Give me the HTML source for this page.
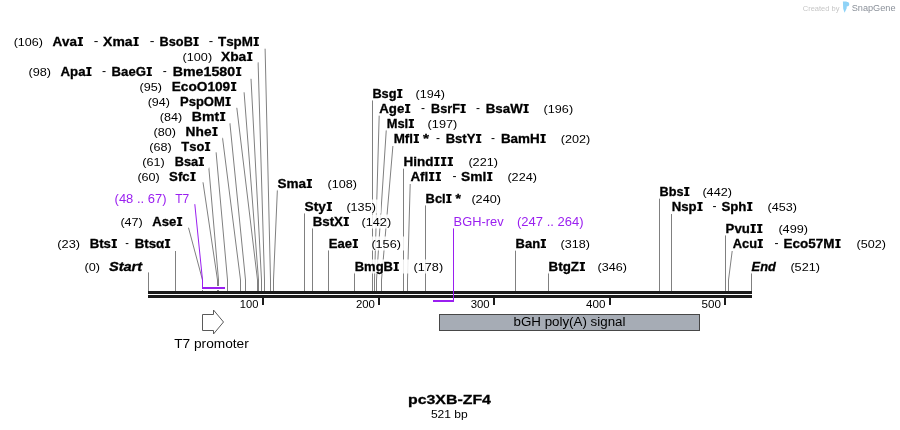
<!DOCTYPE html>
<html><head><meta charset="utf-8"><title>pc3XB-ZF4</title>
<style>
html,body{margin:0;padding:0;background:#fff;}
body{width:900px;height:430px;overflow:hidden;font-family:"Liberation Sans",sans-serif;}
svg{display:block;font-family:"Liberation Sans",sans-serif;}
text{font-kerning:none;font-variant-ligatures:none;white-space:pre;}
</style></head><body>
<svg width="900" height="430" viewBox="0 0 900 430" style="will-change:transform">
<rect width="900" height="430" fill="#fff"/>
<g stroke="#808080" stroke-width="1" fill="none">
<path d="M265.1 48.7L270.5 280V291"/>
<path d="M258.1 62.3L264.5 280V291"/>
<path d="M251 78.8L261.5 280V291"/>
<path d="M244.1 92.3L258.5 280V291"/>
<path d="M236.8 107.8L257.5 280V291"/>
<path d="M229.9 123L245.5 280V291"/>
<path d="M222.5 137.7L240.5 280V291"/>
<path d="M216.1 152.3L227.5 280V291"/>
<path d="M208.8 167.4L218.5 280V291"/>
<path d="M203 182.3L217.5 280V291"/>
<path d="M188.5 227.7L202.5 280V291"/>
<path d="M175.5 251V291"/>
<path d="M148.5 272.4V291"/>
<path d="M277.4 189.4L273.5 280V291"/>
<path d="M304.5 213V291"/>
<path d="M312.5 228V291"/>
<path d="M328.5 250V291"/>
<path d="M354.5 272.4V291"/>
<path d="M372.5 100V291"/>
<path d="M379.2 115.4L374.5 280V291"/>
<path d="M386.3 129.6L376.5 280V291"/>
<path d="M392.9 146L381.5 280V291"/>
<path d="M403.5 168.4V291"/>
<path d="M410.2 184L407.5 280V291"/>
<path d="M425.5 205V291"/>
<path d="M515.5 250.4V291"/>
<path d="M548.5 272.4V291"/>
<path d="M659.5 198.4V291"/>
<path d="M671.5 214V291"/>
<path d="M725.5 235V291"/>
<path d="M732.2 251L728.5 280V291"/>
<path d="M751.5 272.6V291"/>
</g>
<g fill="#fff" fill-opacity="0.85">
<rect x="11.7" y="34.5" width="252.2" height="14"/>
<rect x="180.6" y="49.5" width="76.8" height="14"/>
<rect x="26.5" y="64.5" width="219.8" height="14"/>
<rect x="137.6" y="79.5" width="103.7" height="14"/>
<rect x="145.7" y="94.5" width="90.0" height="14"/>
<rect x="157.7" y="109.5" width="72.6" height="14"/>
<rect x="151.5" y="124.5" width="71.1" height="14"/>
<rect x="147.3" y="139.5" width="67.9" height="14"/>
<rect x="140.3" y="154.5" width="68.7" height="14"/>
<rect x="135.4" y="169.5" width="65.2" height="14"/>
<rect x="112.6" y="191.5" width="81.7" height="14"/>
<rect x="118.4" y="214.5" width="68.8" height="14"/>
<rect x="55.3" y="236.5" width="119.9" height="14"/>
<rect x="82.5" y="259.5" width="65.2" height="14"/>
<rect x="275.4" y="176.5" width="86.6" height="14"/>
<rect x="302.6" y="199.5" width="78.3" height="14"/>
<rect x="310.7" y="214.5" width="85.4" height="14"/>
<rect x="326.8" y="236.5" width="79.1" height="14"/>
<rect x="352.7" y="259.5" width="95.4" height="14"/>
<rect x="370.4" y="86.5" width="79.6" height="14"/>
<rect x="377.3" y="101.5" width="200.8" height="14"/>
<rect x="384.7" y="116.5" width="77.6" height="14"/>
<rect x="391.7" y="131.5" width="203.5" height="14"/>
<rect x="401.6" y="154.5" width="101.4" height="14"/>
<rect x="408.4" y="169.5" width="133.6" height="14"/>
<rect x="423.6" y="191.5" width="82.4" height="14"/>
<rect x="451.6" y="214.5" width="137.0" height="14"/>
<rect x="513.6" y="236.5" width="81.4" height="14"/>
<rect x="546.6" y="259.5" width="85.4" height="14"/>
<rect x="657.6" y="184.5" width="79.4" height="14"/>
<rect x="669.8" y="199.5" width="132.2" height="14"/>
<rect x="723.6" y="221.5" width="89.4" height="14"/>
<rect x="730.8" y="236.5" width="160.2" height="14"/>
<rect x="749.6" y="259.5" width="75.4" height="14"/>
</g>
<rect x="148" y="291" width="604" height="3" fill="#1c1c1c"/>
<rect x="148" y="295" width="604" height="3" fill="#1c1c1c"/>
<rect x="262" y="298" width="2" height="7" fill="#1c1c1c"/>
<rect x="378" y="298" width="2" height="7" fill="#1c1c1c"/>
<rect x="493" y="298" width="2" height="7" fill="#1c1c1c"/>
<rect x="609" y="298" width="2" height="7" fill="#1c1c1c"/>
<rect x="724" y="298" width="2" height="7" fill="#1c1c1c"/>
<g fill="none">
<path d="M202.5 280V288H225" stroke="#fff" stroke-width="4"/>
<path d="M194.8 204.2L202.5 280V288" stroke="#9a1ff0" stroke-width="1"/>
<path d="M202 288H225" stroke="#9a1ff0" stroke-width="2"/>
<path d="M453.5 228.4V301" stroke="#9a1ff0" stroke-width="1"/>
<path d="M433 301H454" stroke="#9a1ff0" stroke-width="2"/>
</g>
<path d="M202.5 314.5H213.5V310L223.5 322L213.5 334V330.5H202.5Z" fill="#fff" stroke="#5a5a5a" stroke-width="1"/>
<rect x="439.5" y="314.5" width="260" height="16" fill="#a6acb5" stroke="#474747" stroke-width="1"/>
<text x="13.70" y="46" font-size="11" font-weight="normal" fill="#000" textLength="29.30" lengthAdjust="spacingAndGlyphs">(106)</text>
<text x="52.40" y="46" font-size="12.5" font-weight="bold" fill="#000" stroke="#000" stroke-width="0.3" textLength="31.30" lengthAdjust="spacingAndGlyphs">Ava </text><path d="M77.70 37.10H83.00V38.70H81.54V44.40H83.00V46H77.70V44.40H79.16V38.70H77.70Z" fill="#000"/>
<text x="93.70" y="44.8" font-size="12" font-weight="normal" fill="#000" textLength="4.60" lengthAdjust="spacingAndGlyphs">-</text>
<text x="103.10" y="46" font-size="12.5" font-weight="bold" fill="#000" stroke="#000" stroke-width="0.3" textLength="36.44" lengthAdjust="spacingAndGlyphs">Xma </text><path d="M133.40 37.10H138.70V38.70H137.24V44.40H138.70V46H133.40V44.40H134.86V38.70H133.40Z" fill="#000"/>
<text x="149.70" y="44.8" font-size="12" font-weight="normal" fill="#000" textLength="4.70" lengthAdjust="spacingAndGlyphs">-</text>
<text x="159.60" y="46" font-size="12.5" font-weight="bold" fill="#000" stroke="#000" stroke-width="0.3" textLength="39.63" lengthAdjust="spacingAndGlyphs">BsoB </text><path d="M193.40 37.10H198.70V38.70H197.24V44.40H198.70V46H193.40V44.40H194.86V38.70H193.40Z" fill="#000"/>
<text x="208.70" y="44.8" font-size="12" font-weight="normal" fill="#000" textLength="4.40" lengthAdjust="spacingAndGlyphs">-</text>
<text x="218.00" y="46" font-size="12.5" font-weight="bold" fill="#000" stroke="#000" stroke-width="0.3" textLength="41.59" lengthAdjust="spacingAndGlyphs">TspM </text><path d="M253.60 37.10H258.90V38.70H257.44V44.40H258.90V46H253.60V44.40H255.06V38.70H253.60Z" fill="#000"/>
<text x="182.60" y="61" font-size="11" font-weight="normal" fill="#000" textLength="29.50" lengthAdjust="spacingAndGlyphs">(100)</text>
<text x="221.00" y="61" font-size="12.5" font-weight="bold" fill="#000" stroke="#000" stroke-width="0.3" textLength="32.20" lengthAdjust="spacingAndGlyphs">Xba </text><path d="M247.10 52.10H252.40V53.70H250.94V59.40H252.40V61H247.10V59.40H248.56V53.70H247.10Z" fill="#000"/>
<text x="28.50" y="76" font-size="11" font-weight="normal" fill="#000" textLength="22.60" lengthAdjust="spacingAndGlyphs">(98)</text>
<text x="60.50" y="76" font-size="12.5" font-weight="bold" fill="#000" stroke="#000" stroke-width="0.3" textLength="31.66" lengthAdjust="spacingAndGlyphs">Apa </text><path d="M86.20 67.10H91.50V68.70H90.04V74.40H91.50V76H86.20V74.40H87.66V68.70H86.20Z" fill="#000"/>
<text x="102.10" y="74.8" font-size="12" font-weight="normal" fill="#000" textLength="4.10" lengthAdjust="spacingAndGlyphs">-</text>
<text x="111.60" y="76" font-size="12.5" font-weight="bold" fill="#000" stroke="#000" stroke-width="0.3" textLength="40.94" lengthAdjust="spacingAndGlyphs">BaeG </text><path d="M146.60 67.10H151.90V68.70H150.44V74.40H151.90V76H146.60V74.40H148.06V68.70H146.60Z" fill="#000"/>
<text x="162.70" y="74.8" font-size="12" font-weight="normal" fill="#000" textLength="4.00" lengthAdjust="spacingAndGlyphs">-</text>
<text x="172.70" y="76" font-size="12.5" font-weight="bold" fill="#000" stroke="#000" stroke-width="0.3" textLength="69.50" lengthAdjust="spacingAndGlyphs">Bme1580 </text><path d="M236.00 67.10H241.30V68.70H239.84V74.40H241.30V76H236.00V74.40H237.46V68.70H236.00Z" fill="#000"/>
<text x="139.60" y="91" font-size="11" font-weight="normal" fill="#000" textLength="22.40" lengthAdjust="spacingAndGlyphs">(95)</text>
<text x="171.70" y="91" font-size="12.5" font-weight="bold" fill="#000" stroke="#000" stroke-width="0.3" textLength="65.37" lengthAdjust="spacingAndGlyphs">EcoO109 </text><path d="M231.00 82.10H236.30V83.70H234.84V89.40H236.30V91H231.00V89.40H232.46V83.70H231.00Z" fill="#000"/>
<text x="147.70" y="106" font-size="11" font-weight="normal" fill="#000" textLength="22.30" lengthAdjust="spacingAndGlyphs">(94)</text>
<text x="180.00" y="106" font-size="12.5" font-weight="bold" fill="#000" stroke="#000" stroke-width="0.3" textLength="51.30" lengthAdjust="spacingAndGlyphs">PspOM </text><path d="M225.40 97.10H230.70V98.70H229.24V104.40H230.70V106H225.40V104.40H226.86V98.70H225.40Z" fill="#000"/>
<text x="159.70" y="121" font-size="11" font-weight="normal" fill="#000" textLength="22.40" lengthAdjust="spacingAndGlyphs">(84)</text>
<text x="191.80" y="121" font-size="12.5" font-weight="bold" fill="#000" stroke="#000" stroke-width="0.3" textLength="34.36" lengthAdjust="spacingAndGlyphs">Bmt </text><path d="M220.00 112.10H225.30V113.70H223.84V119.40H225.30V121H220.00V119.40H221.46V113.70H220.00Z" fill="#000"/>
<text x="153.50" y="136" font-size="11" font-weight="normal" fill="#000" textLength="22.40" lengthAdjust="spacingAndGlyphs">(80)</text>
<text x="185.60" y="136" font-size="12.5" font-weight="bold" fill="#000" stroke="#000" stroke-width="0.3" textLength="32.78" lengthAdjust="spacingAndGlyphs">Nhe </text><path d="M212.30 127.10H217.60V128.70H216.14V134.40H217.60V136H212.30V134.40H213.76V128.70H212.30Z" fill="#000"/>
<text x="149.30" y="151" font-size="11" font-weight="normal" fill="#000" textLength="22.40" lengthAdjust="spacingAndGlyphs">(68)</text>
<text x="181.30" y="151" font-size="12.5" font-weight="bold" fill="#000" stroke="#000" stroke-width="0.3" textLength="29.49" lengthAdjust="spacingAndGlyphs">Tso </text><path d="M204.90 142.10H210.20V143.70H208.74V149.40H210.20V151H204.90V149.40H206.36V143.70H204.90Z" fill="#000"/>
<text x="142.30" y="166" font-size="11" font-weight="normal" fill="#000" textLength="22.40" lengthAdjust="spacingAndGlyphs">(61)</text>
<text x="174.70" y="166" font-size="12.5" font-weight="bold" fill="#000" stroke="#000" stroke-width="0.3" textLength="29.85" lengthAdjust="spacingAndGlyphs">Bsa </text><path d="M198.70 157.10H204.00V158.70H202.54V164.40H204.00V166H198.70V164.40H200.16V158.70H198.70Z" fill="#000"/>
<text x="137.40" y="181" font-size="11" font-weight="normal" fill="#000" textLength="22.40" lengthAdjust="spacingAndGlyphs">(60)</text>
<text x="169.10" y="181" font-size="12.5" font-weight="bold" fill="#000" stroke="#000" stroke-width="0.3" textLength="27.15" lengthAdjust="spacingAndGlyphs">Sfc </text><path d="M190.30 172.10H195.60V173.70H194.14V179.40H195.60V181H190.30V179.40H191.76V173.70H190.30Z" fill="#000"/>
<text x="114.60" y="203" font-size="12" font-weight="normal" fill="#9a1ff0" textLength="51.90" lengthAdjust="spacingAndGlyphs">(48 .. 67)</text>
<text x="175.30" y="203" font-size="12" font-weight="normal" fill="#9a1ff0" textLength="14.00" lengthAdjust="spacingAndGlyphs">T7</text>
<text x="120.40" y="226" font-size="11" font-weight="normal" fill="#000" textLength="22.40" lengthAdjust="spacingAndGlyphs">(47)</text>
<text x="152.30" y="226" font-size="12.5" font-weight="bold" fill="#000" stroke="#000" stroke-width="0.3" textLength="30.52" lengthAdjust="spacingAndGlyphs">Ase </text><path d="M176.90 217.10H182.20V218.70H180.74V224.40H182.20V226H176.90V224.40H178.36V218.70H176.90Z" fill="#000"/>
<text x="57.30" y="248" font-size="11" font-weight="normal" fill="#000" textLength="22.80" lengthAdjust="spacingAndGlyphs">(23)</text>
<text x="89.70" y="248" font-size="12.5" font-weight="bold" fill="#000" stroke="#000" stroke-width="0.3" textLength="27.85" lengthAdjust="spacingAndGlyphs">Bts </text><path d="M111.60 239.10H116.90V240.70H115.44V246.40H116.90V248H111.60V246.40H113.06V240.70H111.60Z" fill="#000"/>
<text x="125.20" y="246.8" font-size="12" font-weight="normal" fill="#000" textLength="3.60" lengthAdjust="spacingAndGlyphs">-</text>
<text x="134.70" y="248" font-size="12.5" font-weight="bold" fill="#000" stroke="#000" stroke-width="0.3" textLength="36.17" lengthAdjust="spacingAndGlyphs">Btsα </text><path d="M164.90 239.10H170.20V240.70H168.74V246.40H170.20V248H164.90V246.40H166.36V240.70H164.90Z" fill="#000"/>
<text x="84.50" y="271" font-size="11" font-weight="normal" fill="#000" textLength="15.50" lengthAdjust="spacingAndGlyphs">(0)</text>
<text x="108.90" y="271" font-size="12.5" font-weight="bold" font-style="italic" fill="#000" stroke="#000" stroke-width="0.3" textLength="33.29" lengthAdjust="spacingAndGlyphs">Start</text>
<text x="277.40" y="188" font-size="12.5" font-weight="bold" fill="#000" stroke="#000" stroke-width="0.3" textLength="35.33" lengthAdjust="spacingAndGlyphs">Sma </text><path d="M306.70 179.10H312.00V180.70H310.54V186.40H312.00V188H306.70V186.40H308.16V180.70H306.70Z" fill="#000"/>
<text x="327.60" y="188" font-size="11" font-weight="normal" fill="#000" textLength="29.40" lengthAdjust="spacingAndGlyphs">(108)</text>
<text x="304.60" y="211" font-size="12.5" font-weight="bold" fill="#000" stroke="#000" stroke-width="0.3" textLength="28.18" lengthAdjust="spacingAndGlyphs">Sty </text><path d="M326.70 202.10H332.00V203.70H330.54V209.40H332.00V211H326.70V209.40H328.16V203.70H326.70Z" fill="#000"/>
<text x="346.40" y="211" font-size="11" font-weight="normal" fill="#000" textLength="29.50" lengthAdjust="spacingAndGlyphs">(135)</text>
<text x="312.70" y="226" font-size="12.5" font-weight="bold" fill="#000" stroke="#000" stroke-width="0.3" textLength="36.87" lengthAdjust="spacingAndGlyphs">BstX </text><path d="M343.60 217.10H348.90V218.70H347.44V224.40H348.90V226H343.60V224.40H345.06V218.70H343.60Z" fill="#000"/>
<text x="361.60" y="226" font-size="11" font-weight="normal" fill="#000" textLength="29.50" lengthAdjust="spacingAndGlyphs">(142)</text>
<text x="328.80" y="248" font-size="12.5" font-weight="bold" fill="#000" stroke="#000" stroke-width="0.3" textLength="29.82" lengthAdjust="spacingAndGlyphs">Eae </text><path d="M352.70 239.10H358.00V240.70H356.54V246.40H358.00V248H352.70V246.40H354.16V240.70H352.70Z" fill="#000"/>
<text x="371.40" y="248" font-size="11" font-weight="normal" fill="#000" textLength="29.50" lengthAdjust="spacingAndGlyphs">(156)</text>
<text x="354.70" y="271" font-size="12.5" font-weight="bold" fill="#000" stroke="#000" stroke-width="0.3" textLength="44.80" lengthAdjust="spacingAndGlyphs">BmgB </text><path d="M393.60 262.10H398.90V263.70H397.44V269.40H398.90V271H393.60V269.40H395.06V263.70H393.60Z" fill="#000"/>
<text x="413.60" y="271" font-size="11" font-weight="normal" fill="#000" textLength="29.50" lengthAdjust="spacingAndGlyphs">(178)</text>
<text x="372.40" y="98" font-size="12.5" font-weight="bold" fill="#000" stroke="#000" stroke-width="0.3" textLength="30.55" lengthAdjust="spacingAndGlyphs">Bsg </text><path d="M397.10 89.10H402.40V90.70H400.94V96.40H402.40V98H397.10V96.40H398.56V90.70H397.10Z" fill="#000"/>
<text x="415.60" y="98" font-size="11" font-weight="normal" fill="#000" textLength="29.40" lengthAdjust="spacingAndGlyphs">(194)</text>
<text x="379.30" y="113" font-size="12.5" font-weight="bold" fill="#000" stroke="#000" stroke-width="0.3" textLength="31.66" lengthAdjust="spacingAndGlyphs">Age </text><path d="M405.00 104.10H410.30V105.70H408.84V111.40H410.30V113H405.00V111.40H406.46V105.70H405.00Z" fill="#000"/>
<text x="421.00" y="111.8" font-size="12" font-weight="normal" fill="#000" textLength="4.00" lengthAdjust="spacingAndGlyphs">-</text>
<text x="431.00" y="113" font-size="12.5" font-weight="bold" fill="#000" stroke="#000" stroke-width="0.3" textLength="35.22" lengthAdjust="spacingAndGlyphs">BsrF </text><path d="M460.40 104.10H465.70V105.70H464.24V111.40H465.70V113H460.40V111.40H461.86V105.70H460.40Z" fill="#000"/>
<text x="476.00" y="111.8" font-size="12" font-weight="normal" fill="#000" textLength="4.00" lengthAdjust="spacingAndGlyphs">-</text>
<text x="485.70" y="113" font-size="12.5" font-weight="bold" fill="#000" stroke="#000" stroke-width="0.3" textLength="43.68" lengthAdjust="spacingAndGlyphs">BsaW </text><path d="M523.40 104.10H528.70V105.70H527.24V111.40H528.70V113H523.40V111.40H524.86V105.70H523.40Z" fill="#000"/>
<text x="543.60" y="113" font-size="11" font-weight="normal" fill="#000" textLength="29.50" lengthAdjust="spacingAndGlyphs">(196)</text>
<text x="386.70" y="128" font-size="12.5" font-weight="bold" fill="#000" stroke="#000" stroke-width="0.3" textLength="27.86" lengthAdjust="spacingAndGlyphs">Msl </text><path d="M408.70 119.10H414.00V120.70H412.54V126.40H414.00V128H408.70V126.40H410.16V120.70H408.70Z" fill="#000"/>
<text x="427.60" y="128" font-size="11" font-weight="normal" fill="#000" textLength="29.70" lengthAdjust="spacingAndGlyphs">(197)</text>
<text x="393.70" y="143" font-size="12.5" font-weight="bold" fill="#000" stroke="#000" stroke-width="0.3" textLength="25.99" lengthAdjust="spacingAndGlyphs">Mfl </text><path d="M413.70 134.10H419.00V135.70H417.54V141.40H419.00V143H413.70V141.40H415.16V135.70H413.70Z" fill="#000"/>
<text x="423.00" y="143" font-size="12.5" font-weight="bold" fill="#000" stroke="#000" stroke-width="0.3" textLength="6.00" lengthAdjust="spacingAndGlyphs">*</text>
<text x="436.00" y="141.8" font-size="12" font-weight="normal" fill="#000" textLength="4.00" lengthAdjust="spacingAndGlyphs">-</text>
<text x="445.70" y="143" font-size="12.5" font-weight="bold" fill="#000" stroke="#000" stroke-width="0.3" textLength="36.21" lengthAdjust="spacingAndGlyphs">BstY </text><path d="M476.00 134.10H481.30V135.70H479.84V141.40H481.30V143H476.00V141.40H477.46V135.70H476.00Z" fill="#000"/>
<text x="491.00" y="141.8" font-size="12" font-weight="normal" fill="#000" textLength="4.00" lengthAdjust="spacingAndGlyphs">-</text>
<text x="500.90" y="143" font-size="12.5" font-weight="bold" fill="#000" stroke="#000" stroke-width="0.3" textLength="45.51" lengthAdjust="spacingAndGlyphs">BamH </text><path d="M540.40 134.10H545.70V135.70H544.24V141.40H545.70V143H540.40V141.40H541.86V135.70H540.40Z" fill="#000"/>
<text x="560.70" y="143" font-size="11" font-weight="normal" fill="#000" textLength="29.50" lengthAdjust="spacingAndGlyphs">(202)</text>
<text x="403.60" y="166" font-size="12.5" font-weight="bold" fill="#000" stroke="#000" stroke-width="0.3" textLength="50.12" lengthAdjust="spacingAndGlyphs">Hind   </text><path d="M434.23 157.10H439.53V158.70H438.07V164.40H439.53V166H434.23V164.40H435.70V158.70H434.23Z" fill="#000"/><path d="M440.97 157.10H446.27V158.70H444.80V164.40H446.27V166H440.97V164.40H442.43V158.70H440.97Z" fill="#000"/><path d="M447.70 157.10H453.00V158.70H451.54V164.40H453.00V166H447.70V164.40H449.16V158.70H447.70Z" fill="#000"/>
<text x="468.40" y="166" font-size="11" font-weight="normal" fill="#000" textLength="29.60" lengthAdjust="spacingAndGlyphs">(221)</text>
<text x="410.40" y="181" font-size="12.5" font-weight="bold" fill="#000" stroke="#000" stroke-width="0.3" textLength="31.30" lengthAdjust="spacingAndGlyphs">Afl  </text><path d="M428.99 172.10H434.29V173.70H432.83V179.40H434.29V181H428.99V179.40H430.45V173.70H428.99Z" fill="#000"/><path d="M435.70 172.10H441.00V173.70H439.54V179.40H441.00V181H435.70V179.40H437.16V173.70H435.70Z" fill="#000"/>
<text x="452.40" y="179.8" font-size="12" font-weight="normal" fill="#000" textLength="4.00" lengthAdjust="spacingAndGlyphs">-</text>
<text x="461.00" y="181" font-size="12.5" font-weight="bold" fill="#000" stroke="#000" stroke-width="0.3" textLength="32.20" lengthAdjust="spacingAndGlyphs">Sml </text><path d="M487.10 172.10H492.40V173.70H490.94V179.40H492.40V181H487.10V179.40H488.56V173.70H487.10Z" fill="#000"/>
<text x="507.40" y="181" font-size="11" font-weight="normal" fill="#000" textLength="29.60" lengthAdjust="spacingAndGlyphs">(224)</text>
<text x="425.60" y="203" font-size="12.5" font-weight="bold" fill="#000" stroke="#000" stroke-width="0.3" textLength="26.47" lengthAdjust="spacingAndGlyphs">Bcl </text><path d="M446.20 194.10H451.50V195.70H450.04V201.40H451.50V203H446.20V201.40H447.66V195.70H446.20Z" fill="#000"/>
<text x="455.60" y="203" font-size="12.5" font-weight="bold" fill="#000" stroke="#000" stroke-width="0.3" textLength="5.40" lengthAdjust="spacingAndGlyphs">*</text>
<text x="471.40" y="203" font-size="11" font-weight="normal" fill="#000" textLength="29.60" lengthAdjust="spacingAndGlyphs">(240)</text>
<text x="453.60" y="226" font-size="12" font-weight="normal" fill="#9a1ff0" textLength="50.00" lengthAdjust="spacingAndGlyphs">BGH-rev</text>
<text x="517.00" y="226" font-size="12" font-weight="normal" fill="#9a1ff0" textLength="66.60" lengthAdjust="spacingAndGlyphs">(247 .. 264)</text>
<text x="515.60" y="248" font-size="12.5" font-weight="bold" fill="#000" stroke="#000" stroke-width="0.3" textLength="30.99" lengthAdjust="spacingAndGlyphs">Ban </text><path d="M540.70 239.10H546.00V240.70H544.54V246.40H546.00V248H540.70V246.40H542.16V240.70H540.70Z" fill="#000"/>
<text x="560.60" y="248" font-size="11" font-weight="normal" fill="#000" textLength="29.40" lengthAdjust="spacingAndGlyphs">(318)</text>
<text x="548.60" y="271" font-size="12.5" font-weight="bold" fill="#000" stroke="#000" stroke-width="0.3" textLength="37.09" lengthAdjust="spacingAndGlyphs">BtgZ </text><path d="M579.70 262.10H585.00V263.70H583.54V269.40H585.00V271H579.70V269.40H581.16V263.70H579.70Z" fill="#000"/>
<text x="597.60" y="271" font-size="11" font-weight="normal" fill="#000" textLength="29.40" lengthAdjust="spacingAndGlyphs">(346)</text>
<text x="659.60" y="196" font-size="12.5" font-weight="bold" fill="#000" stroke="#000" stroke-width="0.3" textLength="30.32" lengthAdjust="spacingAndGlyphs">Bbs </text><path d="M684.10 187.10H689.40V188.70H687.94V194.40H689.40V196H684.10V194.40H685.56V188.70H684.10Z" fill="#000"/>
<text x="702.40" y="196" font-size="11" font-weight="normal" fill="#000" textLength="29.60" lengthAdjust="spacingAndGlyphs">(442)</text>
<text x="671.80" y="211" font-size="12.5" font-weight="bold" fill="#000" stroke="#000" stroke-width="0.3" textLength="31.44" lengthAdjust="spacingAndGlyphs">Nsp </text><path d="M697.30 202.10H702.60V203.70H701.14V209.40H702.60V211H697.30V209.40H698.76V203.70H697.30Z" fill="#000"/>
<text x="712.40" y="209.8" font-size="12" font-weight="normal" fill="#000" textLength="4.00" lengthAdjust="spacingAndGlyphs">-</text>
<text x="721.40" y="211" font-size="12.5" font-weight="bold" fill="#000" stroke="#000" stroke-width="0.3" textLength="31.66" lengthAdjust="spacingAndGlyphs">Sph </text><path d="M747.10 202.10H752.40V203.70H750.94V209.40H752.40V211H747.10V209.40H748.56V203.70H747.10Z" fill="#000"/>
<text x="767.60" y="211" font-size="11" font-weight="normal" fill="#000" textLength="29.40" lengthAdjust="spacingAndGlyphs">(453)</text>
<text x="725.60" y="233" font-size="12.5" font-weight="bold" fill="#000" stroke="#000" stroke-width="0.3" textLength="37.45" lengthAdjust="spacingAndGlyphs">Pvu  </text><path d="M750.49 224.10H755.79V225.70H754.33V231.40H755.79V233H750.49V231.40H751.95V225.70H750.49Z" fill="#000"/><path d="M757.10 224.10H762.40V225.70H760.94V231.40H762.40V233H757.10V231.40H758.56V225.70H757.10Z" fill="#000"/>
<text x="778.40" y="233" font-size="11" font-weight="normal" fill="#000" textLength="29.60" lengthAdjust="spacingAndGlyphs">(499)</text>
<text x="732.80" y="248" font-size="12.5" font-weight="bold" fill="#000" stroke="#000" stroke-width="0.3" textLength="30.66" lengthAdjust="spacingAndGlyphs">Acu </text><path d="M757.60 239.10H762.90V240.70H761.44V246.40H762.90V248H757.60V246.40H759.06V240.70H757.60Z" fill="#000"/>
<text x="774.40" y="246.8" font-size="12" font-weight="normal" fill="#000" textLength="4.00" lengthAdjust="spacingAndGlyphs">-</text>
<text x="783.60" y="248" font-size="12.5" font-weight="bold" fill="#000" stroke="#000" stroke-width="0.3" textLength="57.72" lengthAdjust="spacingAndGlyphs">Eco57M </text><path d="M835.30 239.10H840.60V240.70H839.14V246.40H840.60V248H835.30V246.40H836.76V240.70H835.30Z" fill="#000"/>
<text x="856.60" y="248" font-size="11" font-weight="normal" fill="#000" textLength="29.40" lengthAdjust="spacingAndGlyphs">(502)</text>
<text x="751.60" y="271" font-size="12.5" font-weight="bold" font-style="italic" fill="#000" stroke="#000" stroke-width="0.3" textLength="24.18" lengthAdjust="spacingAndGlyphs">End</text>
<text x="790.40" y="271" font-size="11" font-weight="normal" fill="#000" textLength="29.60" lengthAdjust="spacingAndGlyphs">(521)</text>
<text x="239.80" y="308" font-size="11" font-weight="normal" fill="#000" textLength="18.60" lengthAdjust="spacingAndGlyphs">100</text>
<text x="355.90" y="308" font-size="11" font-weight="normal" fill="#000" textLength="19.00" lengthAdjust="spacingAndGlyphs">200</text>
<text x="470.70" y="308" font-size="11" font-weight="normal" fill="#000" textLength="19.00" lengthAdjust="spacingAndGlyphs">300</text>
<text x="586.00" y="308" font-size="11" font-weight="normal" fill="#000" textLength="19.50" lengthAdjust="spacingAndGlyphs">400</text>
<text x="701.60" y="308" font-size="11" font-weight="normal" fill="#000" textLength="19.40" lengthAdjust="spacingAndGlyphs">500</text>
<text x="174.20" y="348" font-size="12" font-weight="normal" fill="#000" textLength="74.60" lengthAdjust="spacingAndGlyphs">T7 promoter</text>
<text x="513.50" y="326" font-size="12" font-weight="normal" fill="#000" textLength="112.00" lengthAdjust="spacingAndGlyphs">bGH poly(A) signal</text>
<text x="408.00" y="404" font-size="13.5" font-weight="bold" fill="#000" stroke="#000" stroke-width="0.3" textLength="82.90" lengthAdjust="spacingAndGlyphs">pc3XB-ZF4</text>
<text x="430.90" y="418" font-size="11" font-weight="normal" fill="#000" textLength="36.90" lengthAdjust="spacingAndGlyphs">521 bp</text>
<text x="802.80" y="10.8" font-size="8" font-weight="normal" fill="#c6c6c6" textLength="36.60" lengthAdjust="spacingAndGlyphs">Created by</text>
<text x="851.70" y="10.8" font-size="9" font-weight="normal" fill="#8a9099" textLength="43.90" lengthAdjust="spacingAndGlyphs">SnapGene</text>
<path d="M842.9 1.4H846.7V2.1H847.8Q849.3 2.3 849.3 4.3Q849.3 6.5 846.7 6.6V8.2L844.6 12.7L843.2 8.8Z" fill="#8fd3f7"/>
</svg></body></html>
